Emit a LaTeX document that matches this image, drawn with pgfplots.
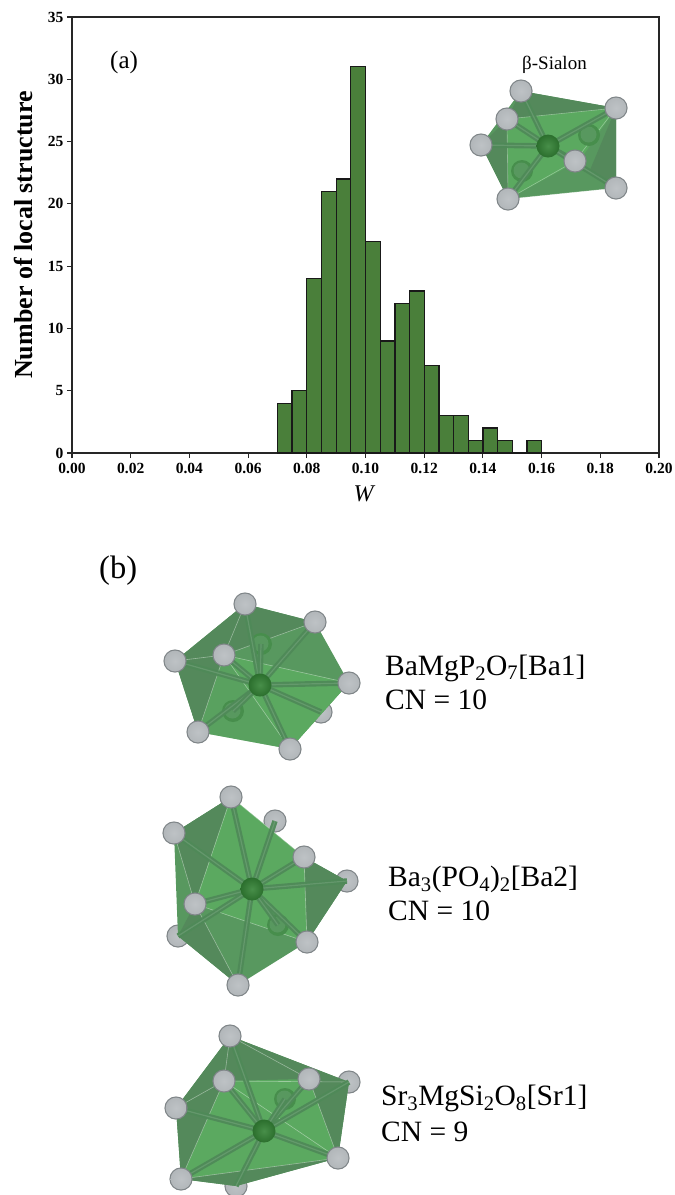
\documentclass[border=0pt]{standalone}
\usepackage{fontspec}
\setmainfont{Liberation Serif}
\usepackage{pgfplots}
\pgfplotsset{compat=1.18}
\definecolor{barg}{HTML}{4A7F3A}
\definecolor{hullg}{HTML}{58985F}
\definecolor{lightg}{HTML}{5BA960}
\definecolor{darkg}{HTML}{54895B}
\definecolor{bondg}{HTML}{4F8A58}
\definecolor{coreg}{HTML}{338235}
\definecolor{balli}{HTML}{BEC2C5}
\definecolor{ballm}{HTML}{B2B7BA}
\definecolor{ballo}{HTML}{7F8588}
\newcommand{\fs}[1]{\fontsize{#1pt}{#1pt}\selectfont}
\newcommand{\gballs}[1]{\foreach \a/\b in {#1}{\fill[ballo] (\a,\b) circle (11.6);\shade[inner color=balli,outer color=ballm] (\a,\b) circle (10.4);}}
\newcommand{\gcore}[2]{\shade[inner color=coreg!90!white,outer color=coreg!85!black] (#1,#2) circle (11.5);}
\newcommand{\gbacks}[1]{\foreach \a/\b in {#1}{\fill[coreg!45!hullg] (\a,\b) circle (11);\fill[hullg] (\a-.5,\b-.5) circle (8);}}
\newcommand{\gbonds}[3]{\foreach \a/\b in {#3}{\draw[bondg,line width=5.5,opacity=.95] (#1,#2)--(\a,\b);\draw[white,line width=1.2,opacity=.12] (#1,#2)--(\a,\b);}}
\newcommand{\txt}[3]{\node[anchor=base west,inner sep=0] at (#1,#2) {\fs{29.5}#3};}
\newcommand{\sub}[1]{\textsubscript{#1}}
\begin{document}
\begin{tikzpicture}
\path[use as bounding box] (0,0) rectangle (675pt,-1195pt);
\begin{axis}[
  at={(72pt,-453pt)}, anchor=south west,
  scale only axis, width=587pt, height=436pt,
  xmin=0, xmax=0.2, ymin=0, ymax=35,
  axis line style={line width=1.3pt,black!85},
  tick style={line width=1.1pt,black!85},
  tick align=outside, xtick pos=bottom, ytick pos=left,
  major tick length=5pt,
  xtick={0,0.02,0.04,0.06,0.08,0.10,0.12,0.14,0.16,0.18,0.20},
  xticklabels={0.00,0.02,0.04,0.06,0.08,0.10,0.12,0.14,0.16,0.18,0.20},
  ytick={0,5,10,15,20,25,30,35},
  tick label style={font=\fs{15.5}\bfseries},
  /pgf/number format/assume math mode=true,
  xticklabel style={yshift=-1.5pt},
  yticklabel style={xshift=0pt},
  xlabel={\fs{24}\itshape W},
  xlabel style={at={(axis description cs:0.497,0)},anchor=north,yshift=-33pt,inner sep=0pt},
  ylabel={\fs{26}\bfseries Number of local structure},
  ylabel style={at={(axis description cs:0,0.5)},anchor=south,yshift=38.5pt,inner sep=0pt},
]
\addplot[ybar interval, fill=barg, draw=black!90, line width=1.3pt] coordinates {
(0.070,4)(0.075,5)(0.080,14)(0.085,21)(0.090,22)(0.095,31)(0.100,17)(0.105,9)(0.110,12)(0.115,13)(0.120,7)(0.125,3)(0.130,3)(0.135,1)(0.140,2)(0.145,1)(0.150,0)(0.155,1)(0.160,0)};
\end{axis}
\begin{scope}[x=1pt,y=-1pt]
\node[anchor=base west,inner sep=0] at (110,68) {\fs{25}(a)};
\node[anchor=base west,inner sep=0] at (99,578) {\fs{32.5}(b)};
\node[anchor=base west,inner sep=0] at (522,69) {\fs{19}β-Sialon};
\txt{385}{675}{BaMgP\sub{2}O\sub{7}[Ba1]}
\txt{385}{709}{CN = 10}
\txt{388}{886}{Ba\sub{3}(PO\sub{4})\sub{2}[Ba2]}
\txt{388}{920}{CN = 10}
\txt{381}{1105}{Sr\sub{3}MgSi\sub{2}O\sub{8}[Sr1]}
\txt{381}{1141}{CN = 9}
% beta-Sialon
\gballs{589/135}
\fill[hullg] (521,91)--(616,108)--(616,188)--(508,199)--(481,145)--cycle;
\fill[darkg] (521,91)--(616,108)--(507,119)--cycle;
\fill[lightg] (507,119)--(616,108)--(580,160)--(508,199)--cycle;
\fill[darkg] (481,145)--(507,119)--(508,199)--cycle;
\fill[darkg] (616,108)--(616,188)--(590,170)--cycle;
\draw[white,opacity=.35,line width=.6] (507,119)--(616,108)--(575,161)--(508,199)--(507,119) (508,199)--(616,188);
\gbacks{589/135,522/171}
\gbonds{548}{146}{521/91,616/108,507/119,481/145,575/161,616/188,508/199}
\gcore{548}{146}
\gballs{521/91,616/108,481/145,507/119,575/161,616/188,508/199}
% BaMgP2O7
\gballs{321/712}
\fill[hullg] (245,604)--(315,622)--(349,683)--(290,749)--(198,732)--(175,661)--cycle;
\fill[darkg] (245,604)--(315,622)--(224,655)--(175,661)--cycle;
\fill[lightg] (224,655)--(349,683)--(290,749)--cycle;
\fill[lightg,opacity=.55] (224,655)--(290,749)--(198,732)--cycle;
\fill[darkg] (175,661)--(224,655)--(198,732)--cycle;
\draw[white,opacity=.4,line width=.6] (245,604)--(224,655)--(315,622) (175,661)--(224,655)--(349,683) (224,655)--(198,732) (224,655)--(290,749);
\gbacks{233/711,261/644}
\gbonds{260}{685}{245/604,315/622,175/661,224/655,349/683,198/732,290/749,321/712,233/711,261/644}
\gcore{260}{685}
\gballs{245/604,315/622,175/661,224/655,349/683,198/732,290/749}
% Ba3(PO4)2
\gballs{275/821,178/936,347/881}
\fill[hullg] (231,797)--(304,857)--(347,881)--(307,942)--(238,985)--(178,936)--(174,833)--cycle;
\fill[darkg] (231,797)--(174,833)--(195,904)--cycle;
\fill[darkg] (304,857)--(347,881)--(307,942)--cycle;
\fill[lightg] (231,797)--(304,857)--(307,942)--(195,904)--cycle;
\fill[darkg] (178,936)--(195,904)--(238,985)--cycle;
\draw[white,opacity=.4,line width=.6] (231,797)--(195,904)--(174,833) (195,904)--(307,942) (195,904)--(238,985) (304,857)--(307,942) (231,797)--(304,857);
\gbacks{278/925}
\gbonds{252}{889}{231/797,275/821,174/833,304/857,347/881,195/904,178/936,307/942,238/985,278/925}
\gcore{252}{889}
\gballs{231/797,174/833,304/857,195/904,307/942,238/985}
% Sr3MgSi2O8
\begin{scope}
\clip (0,1000) rectangle (675,1195);
\gballs{236/1186,349/1082}
\fill[hullg] (230,1036)--(349,1082)--(338,1158)--(236,1186)--(181,1179)--(176,1108)--cycle;
\fill[darkg] (230,1036)--(349,1082)--(224,1081)--(176,1108)--cycle;
\fill[lightg] (224,1081)--(309,1079)--(338,1158)--(181,1179)--cycle;
\fill[darkg] (176,1108)--(224,1081)--(181,1179)--cycle;
\fill[darkg] (181,1179)--(338,1158)--(236,1186)--cycle;
\fill[darkg] (349,1082)--(338,1158)--(309,1079)--cycle;
\draw[white,opacity=.4,line width=.6] (230,1036)--(224,1081)--(176,1108) (224,1081)--(349,1082) (224,1081)--(338,1158) (224,1081)--(181,1179)--(338,1158)--(309,1079) (230,1036)--(309,1079);
\gbacks{285/1099}
\gbonds{264}{1131}{230/1036,224/1081,309/1079,349/1082,176/1108,181/1179,236/1186,338/1158,285/1099}
\gcore{264}{1131}
\gballs{230/1036,224/1081,309/1079,176/1108,181/1179,338/1158}
\end{scope}
\end{scope}
\end{tikzpicture}
\end{document}
